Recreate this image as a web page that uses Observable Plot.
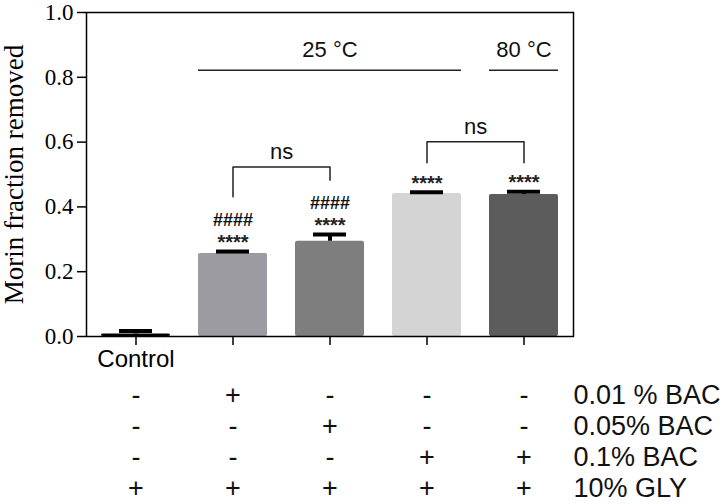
<!DOCTYPE html>
<html><head><meta charset="utf-8">
<script src="https://cdn.jsdelivr.net/npm/d3@7"></script>
<script src="https://cdn.jsdelivr.net/npm/@observablehq/plot@0.6"></script>
<style>
body{margin:0;background:#fff;}
#chart svg{display:block;}
</style></head><body><div id="chart"></div>
<script>
// ---- data ----
const categories = ["Control", "0.01% BAC", "0.05% BAC", "0.1% BAC 25°C", "0.1% BAC 80°C"];
const means  = [0.008, 0.256, 0.294, 0.441, 0.438];
const errors = [0.009, 0.006, 0.021, 0.004, 0.009];
const colors = ["#000000", "#9b9ba1", "#7e7e7e", "#d4d4d4", "#5c5c5c"];
const stars  = ["", "****", "****", "****", "****"];
const hashes = ["", "####", "####", "", ""];
const yTicks = [0, 0.2, 0.4, 0.6, 0.8, 1.0];
const yLabel = "Morin fraction removed";
const rowLabels = ["0.01 % BAC", "0.05% BAC", "0.1% BAC", "10% GLY"];
const tableSigns = [
  ["-", "+", "-", "-", "-"],
  ["-", "-", "+", "-", "-"],
  ["-", "-", "-", "+", "+"],
  ["+", "+", "+", "+", "+"]
];
const tempGroups = [
  {label: "25 °C", from: categories[1], to: categories[3], mid: categories[2]},
  {label: "80 °C", from: categories[4], to: categories[4], mid: categories[4]}
];
const brackets = [
  {id: 1, from: categories[1], to: categories[2], left: 0.431, right: 0.482, top: 0.523, text: "ns"},
  {id: 2, from: categories[3], to: categories[4], left: 0.536, right: 0.536, top: 0.601, text: "ns"}
];

// ---- derived tables ----
const bars = categories.map((c, i) => ({cat: c, mean: means[i], top: means[i] + errors[i], stars: stars[i], hashes: hashes[i]}));
const bracketPts = brackets.flatMap(b => [
  {id: b.id, x: b.from, y: b.left},
  {id: b.id, x: b.from, y: b.top},
  {id: b.id, x: b.to, y: b.top},
  {id: b.id, x: b.to, y: b.right}
]);
const cells = [];
rowLabels.forEach((r, ri) => categories.forEach((c, ci) => cells.push({row: r, cat: c, sign: tableSigns[ri][ci]})));

const xScale = {type: "band", domain: categories, paddingInner: 0.29, paddingOuter: 0.145};
const sans = "Liberation Sans, Arial, sans-serif";
const serif = "Liberation Serif, Times New Roman, serif";
const baseStyle = {fontFamily: sans, background: "white", color: "black"};

const main = Plot.plot({
  width: 720, height: 378,
  marginTop: 12, marginBottom: 42, marginLeft: 86, marginRight: 147,
  style: baseStyle,
  x: xScale,
  y: {domain: [0, 1]},
  color: {domain: categories, range: colors},
  marks: [
    Plot.barY(bars, {x: "cat", y: "mean", fill: "cat", rx: 2}),
    Plot.ruleX(bars, {x: "cat", y1: "mean", y2: "top", strokeWidth: 4, stroke: "black"}),
    Plot.tickY(bars, {x: "cat", y: "top", strokeWidth: 4, stroke: "black", insetLeft: 18, insetRight: 18}),
    Plot.text(bars, {x: "cat", y: "top", text: "stars", dy: -9, fontSize: 20, fontWeight: "bold", fill: "#222"}),
    Plot.text(bars, {x: "cat", y: "top", text: "hashes", dy: -31, fontSize: 18, fontWeight: "bold", fill: "#111"}),
    Plot.ruleY(tempGroups, {x1: "from", x2: "to", y: 0.822, strokeWidth: 1.5, stroke: "#222"}),
    Plot.text(tempGroups, {x: "mid", y: 0.884, text: "label", fontSize: 22, fill: "#111"}),
    Plot.line(bracketPts, {x: "x", y: "y", z: "id", strokeWidth: 1.5, stroke: "#222"}),
    Plot.text(brackets, {x: "from", y: "top", text: "text", dx: 48.6, dy: -15, fontSize: 22, fill: "#111"}),
    Plot.axisY({ticks: yTicks, tickFormat: d3.format(".1f"), tickSize: 9, tickPadding: 4,
      fontFamily: serif, fontSize: 23,
      label: null, strokeWidth: 1.5}),
    Plot.axisY({ticks: [], tickSize: 0, fontFamily: serif, fontSize: 27,
      label: yLabel, labelAnchor: "center", labelArrow: false}),
    Plot.axisX({tickSize: 9, tickPadding: 4, tickFormat: d => d === categories[0] ? "Control" : "",
      fontFamily: sans, fontSize: 24, label: null, strokeWidth: 1.5}),
    Plot.frame({stroke: "black", strokeWidth: 1.5})
  ]
});

const table = Plot.plot({
  width: 720, height: 126,
  marginTop: 17, marginBottom: 16, marginLeft: 86, marginRight: 147,
  style: baseStyle,
  x: {...xScale, axis: null},
  y: {type: "point", domain: rowLabels, padding: 0, axis: null},
  marks: [
    Plot.text(cells, {x: "cat", y: "row", text: "sign", fontSize: 27, fill: "#111"}),
    Plot.text(rowLabels, {y: d => d, text: d => d, frameAnchor: "right", textAnchor: "start", fontSize: 27, fill: "#111"})
  ]
});

document.getElementById("chart").append(main, table);
</script>
</body></html>
